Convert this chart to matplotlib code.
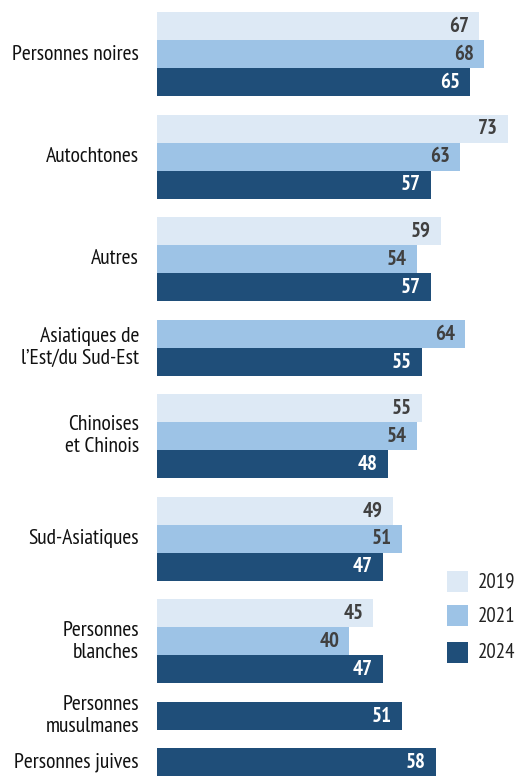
import matplotlib
matplotlib.use("Agg")
import matplotlib.pyplot as plt
from matplotlib.patches import Rectangle
import matplotlib.transforms as mtrans

categories = ["Personnes noires", "Autochtones", "Autres", "Asiatiques de\nl\u2019Est/du Sud-Est",
              "Chinoises\net Chinois", "Sud-Asiatiques", "Personnes\nblanches",
              "Personnes\nmusulmanes", "Personnes juives"]
years = ["2019", "2021", "2024"]
v2019 = [67, 73, 59, None, 55, 49, 45, None, None]
v2021 = [68, 63, 54, 64, 54, 51, 40, None, None]
v2024 = [65, 57, 57, 55, 48, 47, 47, 51, 58]
series = [v2019, v2021, v2024]
colors = ["#dde9f5", "#9dc3e6", "#1f4e79"]
label_colors = ["#404040", "#404040", "white"]

plt.rcParams["font.family"] = ["PT Sans Narrow", "Roboto Condensed", "DejaVu Sans"]

W, H = 515, 776
fig = plt.figure(figsize=(W / 100, H / 100), dpi=100)
ax = fig.add_axes([0, 0, 1, 1])
x0_px, scale = 157, 4.81
ax.set_xlim(-x0_px / scale, (W - x0_px) / scale)
ax.set_ylim(H, 0)
ax.axis("off")

bar_h = 28
top = 12
n_bars = sum(1 for s in series for v in s if v is not None)
gap = (H - top - n_bars * bar_h) / (len(categories) - 1)

lab_tr = mtrans.blended_transform_factory(fig.transFigure, ax.transData)
y = top
for i, cat in enumerate(categories):
    start = y
    for s, col, lc in zip(series, colors, label_colors):
        v = s[i]
        if v is None:
            continue
        ax.barh(y + bar_h / 2, v, height=bar_h, color=col, left=0, linewidth=0)
        ax.text(v - 10 / scale, y + bar_h / 2 + 0.5, str(v), ha="right", va="center",
                color=lc, fontsize=15, fontweight="bold")
        y += bar_h
    ax.text(139 / W, (start + y) / 2, cat, transform=lab_tr, ha="right", va="center",
            fontsize=15.7, color="#111111", linespacing=1.2)
    y += gap

# legend
leg_y = [571, 605, 642]
for yy, col, yr in zip(leg_y, colors, years):
    fig.patches.append(Rectangle((447 / W, 1 - (yy + 21) / H), 21 / W, 21 / H,
                                 transform=fig.transFigure, color=col, linewidth=0))
    fig.text(478 / W, 1 - (yy + 11) / H, yr, ha="left", va="center", fontsize=15,
             color="#222222")

fig.savefig("out.png", dpi=100)
